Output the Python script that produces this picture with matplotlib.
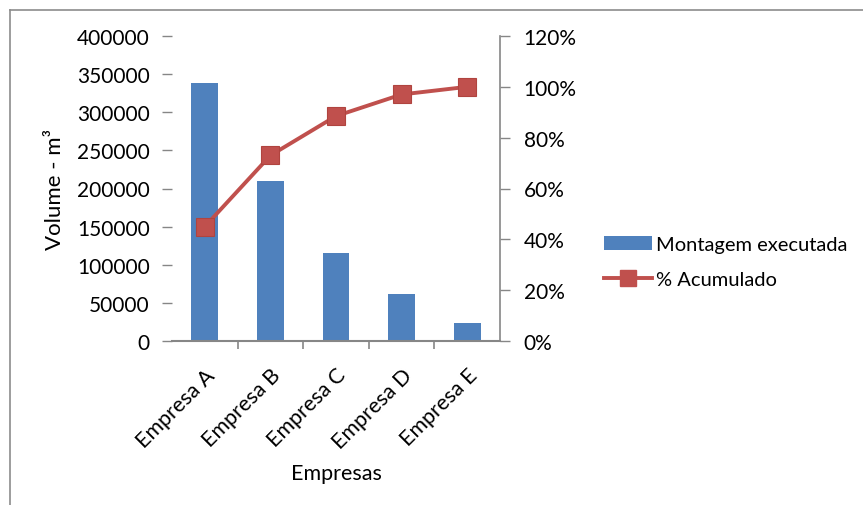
import matplotlib
matplotlib.use('Agg')
import matplotlib.pyplot as plt
from matplotlib.lines import Line2D
from matplotlib.patches import Patch
import numpy as np

plt.rcParams['font.family'] = ['Lato', 'DejaVu Sans']

# data
empresas = ['Empresa A', 'Empresa B', 'Empresa C', 'Empresa D', 'Empresa E']
volume = [338000, 210000, 116000, 61000, 23000]
acumulado = [0.45, 0.73, 0.885, 0.97, 1.0]

blue = '#4F81BD'
red = '#C0504D'
axis_gray = '#868686'

fig = plt.figure(figsize=(8.63, 5.06), dpi=100)
ax = fig.add_axes([172 / 863, 1 - 342 / 506, 328 / 863, 305 / 506])
ax2 = ax.twinx()

xs = np.arange(len(empresas))
bars = ax.bar(xs, volume, width=0.41, color=blue, zorder=2)

line, = ax2.plot(xs, acumulado, color=red, lw=2.8, marker='s', markersize=13,
                 markerfacecolor=red, markeredgecolor='#B0443F', markeredgewidth=0.8,
                 zorder=3)

ax.set_xlim(-0.5, len(xs) - 0.5)
ax.set_ylim(0, 400000)
ax.set_yticks(np.arange(0, 400001, 50000))
ax.set_yticklabels(['%d' % v for v in np.arange(0, 400001, 50000)], fontsize=15)
ax2.set_ylim(0, 1.2)
ax2.set_yticks(np.arange(0, 1.21, 0.2))
ax2.set_yticklabels(['%.0f%%' % (v * 100) for v in np.arange(0, 1.21, 0.2)], fontsize=15)

ax.set_xticks(xs)
ax.set_xticklabels(empresas, rotation=45, ha='right', rotation_mode='anchor', fontsize=15.5)
ax.tick_params(axis='x', length=0, pad=17)
ax.set_xticks(np.arange(0.5, len(xs) - 0.5, 1), minor=True)
ax.tick_params(axis='x', which='minor', length=6, color=axis_gray, width=1.2)

ax.tick_params(axis='y', length=7, color=axis_gray, pad=9, width=1)
ax2.tick_params(axis='y', length=7, color=axis_gray, pad=10, width=1)

for a in (ax, ax2):
    for s in ('top', 'left', 'right', 'bottom'):
        a.spines[s].set_visible(False)
ax.spines['bottom'].set_visible(True)
ax.spines['bottom'].set_color(axis_gray)
ax.spines['bottom'].set_linewidth(1.5)
ax2.spines['right'].set_visible(True)
ax2.spines['right'].set_color(axis_gray)
ax2.spines['right'].set_linewidth(1.2)

ax.set_ylabel('Volume - m³', fontsize=16)
ax.yaxis.set_label_coords(-0.326, 0.5)
ax.set_xlabel('Empresas', fontsize=15.5, labelpad=8)

handles = [Patch(facecolor=blue), Line2D([], [], color=red, lw=2.8, marker='s', markersize=11)]
fig.legend(handles, ['Montagem executada', '% Acumulado'],
           loc='center left', bbox_to_anchor=(586 / 863, 1 - 263 / 506),
           frameon=False, fontsize=14.5, handlelength=2.4, handletextpad=0.2,
           labelspacing=0.9)

# outer chart frame (only top and left edges visible)
fig.add_artist(Line2D([10 / 863, 10 / 863], [0, 1 - 11 / 506], color='#8c8c8c', lw=1.2,
                      transform=fig.transFigure))
fig.add_artist(Line2D([10 / 863, 1], [1 - 11 / 506, 1 - 11 / 506], color='#8c8c8c', lw=1.2,
                      transform=fig.transFigure))

fig.savefig('out.png', dpi=100)
